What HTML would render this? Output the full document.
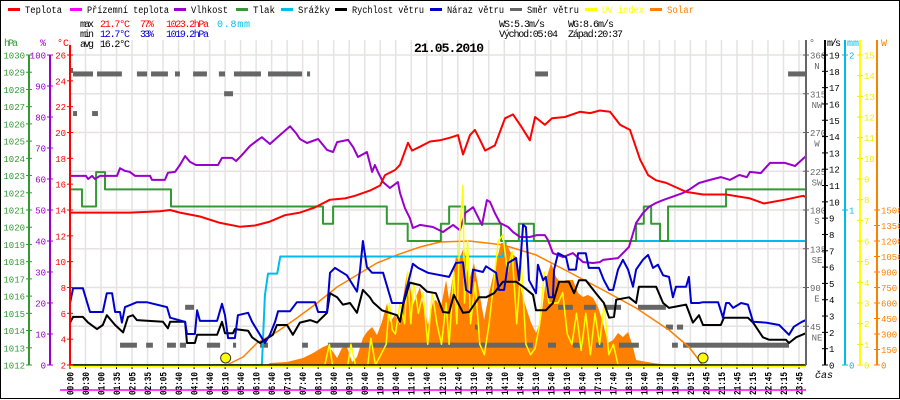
<!DOCTYPE html>
<html><head><meta charset="utf-8"><style>
html,body{margin:0;padding:0;background:#fff;}
svg{display:block;font-family:"Liberation Mono",monospace;}
</style></head><body>
<svg id="chart" width="900" height="400" viewBox="0 0 900 400" xmlns="http://www.w3.org/2000/svg">
<rect x="0.5" y="0.5" width="899" height="398" fill="#fff" stroke="#000"/>
<g id="grid"></g>
<g id="plot"></g>
<g id="axes"></g>
<g id="legend"></g>
<g font-size="10">
 <text x="80" y="27" textLength="14">max</text>
 <text x="100" y="27" fill="#f00" textLength="30">21.7°C</text>
 <text x="140" y="27" fill="#f00" textLength="14">77%</text>
 <text x="166" y="27" fill="#f00" textLength="43">1023.2hPa</text>
 <text x="217" y="27" fill="#00bbee" textLength="33">0.8mm</text>
 <text x="80" y="37" textLength="14">min</text>
 <text x="100" y="37" fill="#00c" textLength="30">12.7°C</text>
 <text x="140" y="37" fill="#00c" textLength="14">33%</text>
 <text x="166" y="37" fill="#00c" textLength="43">1019.2hPa</text>
 <text x="80" y="47" textLength="14">avg</text>
 <text x="100" y="47" textLength="30">16.2°C</text>
 <text x="499" y="27" textLength="46">WS:5.3m/s</text>
 <text x="568" y="27" textLength="46">WG:8.6m/s</text>
 <text x="499" y="37" textLength="59">Východ:05:04</text>
 <text x="568" y="37" textLength="55">Západ:20:37</text>
 <text x="414" y="52" font-size="13" font-weight="bold" textLength="70">21.05.2010</text>
</g>
</svg>
<script>
// ---- data ----
const xLabels=["00:00","00:30","01:00","01:35","02:05","02:35","03:05","03:40","04:10","04:40","05:10","05:40","06:10","06:40","07:10","07:40","08:10","08:40","09:10","09:40","10:10","10:40","11:10","11:40","12:10","12:40","13:10","13:40","14:10","14:40","15:10","15:40","16:10","16:40","17:10","17:40","18:10","18:40","19:10","19:40","20:15","20:45","21:15","21:45","22:15","22:45","23:15","23:45"];
const tempH=[0,0.98,1.95,2.93,3.26,3.58,4.23,4.89,5.54,6.03,6.51,7.0,7.49,7.98,8.47,8.96,9.28,9.77,10.1,10.26,10.59,10.75,11.01,11.14,11.4,11.73,12.05,12.38,12.64,12.8,13.03,13.19,13.36,13.52,13.84,14.17,14.43,14.66,14.98,15.15,15.47,15.7,16.12,16.61,16.94,17.26,17.59,17.92,18.24,18.57,18.83,19.09,19.42,20.07,20.62,21.37,22.15,22.6,23.29,23.88,23.97];
const tempV=[13.8,13.8,13.8,13.9,14.0,13.8,13.5,13.0,12.7,12.8,13.1,13.6,13.8,14.2,14.8,14.9,15.1,15.5,15.9,16.7,17.1,17.5,19.2,18.6,18.9,19.3,19.4,19.6,19.8,18.3,19.8,20.2,19.4,18.6,19.0,21.1,21.4,20.6,19.4,21.2,20.6,21.1,21.2,21.6,21.5,21.7,21.6,20.6,20.2,17.9,16.7,16.3,16.1,15.4,15.2,15.2,14.9,14.5,14.8,15.1,15.0];
const humH=[0,0.52,0.59,0.72,0.81,0.98,1.53,1.63,1.79,1.95,2.12,2.61,2.67,3.09,3.19,3.42,3.58,3.75,3.91,4.1,4.82,4.95,5.28,5.41,5.6,5.86,6.12,6.25,6.51,6.84,7.17,7.36,7.49,7.72,8.08,8.37,8.57,8.7,9.06,9.22,9.38,9.67,9.84,9.93,10.03,10.2,10.42,10.68,10.75,10.91,11.07,11.17,11.4,11.82,12.15,12.48,12.7,12.87,13.13,13.42,13.58,13.68,13.84,14.01,14.27,14.43,14.66,14.98,15.21,15.47,15.57,15.73,16.06,16.38,16.71,17.04,17.26,17.36,17.85,18.21,18.44,18.66,18.86,19.09,19.32,19.97,20.16,20.49,20.85,21.2,21.5,21.8,22.05,22.15,22.5,22.8,23.29,23.62,23.97];
const humV=[61,61,60,61,60,61,61,63.5,62.6,62.3,61,61,59.7,59.7,62,62.3,64.5,67.4,65.5,64.5,64.5,66.8,66.8,65.8,67.7,70.6,72.6,73.5,71.3,74.2,77,74.8,72.9,71.6,72.9,69.4,68.7,71.9,72.6,70.3,67.1,68.7,62.3,64.5,62.3,59,57.1,59,55.5,50.6,47.4,44.2,45.2,44.5,42.9,45.2,43.5,49,50.9,45.2,53.2,52.6,49,45.8,44.5,42.9,41.3,41.3,41.9,41.9,40.3,36.1,34.8,36.1,33.2,32.9,33.2,33.9,34.5,38.1,45.8,49,51,52.3,53.2,55.5,56.5,58.7,59.7,60.6,59.7,61.3,60.6,62.3,61.9,65.2,65.2,64.2,67.4];
const presH=[0,0.39,0.85,1.14,3.29,8.24,8.57,10.32,11.0,12.08,12.35,12.87,14.04,14.62,15.11,18.44,18.69,18.93,19.22,19.48,21.37];
const presV=[1022.2,1021.2,1023.2,1022.2,1021.2,1020.2,1021.2,1020.2,1019.2,1020.2,1021.2,1020.2,1019.2,1020.2,1019.2,1020.2,1021.2,1020.2,1019.2,1021.2,1022.2];
const rainH=[0,6.25,6.35,6.45,6.75,6.85,14.1,14.2,24];
const rainV=[0,0,0.45,0.59,0.59,0.70,0.70,0.80,0.80];
const windH=[0,0.1,0.42,0.59,0.88,1.07,1.2,1.47,1.73,1.89,2.05,2.18,3.03,3.19,3.26,3.75,3.81,4.07,4.14,4.79,4.95,5.05,5.31,5.37,5.8,5.93,6.19,6.61,6.74,7.07,7.26,7.49,7.82,8.05,8.37,8.47,8.7,8.89,9.12,9.35,9.54,9.77,9.87,10.16,10.33,10.65,10.75,10.85,11.07,11.4,11.63,11.92,12.15,12.35,12.5,12.8,13.0,13.32,13.55,13.81,14.1,14.53,14.76,15.08,15.18,15.5,15.73,15.93,16.25,16.42,16.58,16.8,17.13,17.39,17.56,17.72,17.79,18.21,18.44,18.53,19.09,19.32,19.51,20.07,20.29,20.49,20.62,21.2,21.3,22.08,22.25,22.57,22.77,23.32,23.42,23.65,23.97];
const windV=[2.6,2.95,2.95,2.6,2.2,2.45,3.05,2.45,2.0,2.95,3.05,2.75,2.65,2.25,2.65,2.65,1.35,1.35,1.85,1.85,2.65,1.95,1.95,2.2,2.1,1.7,1.35,1.85,2.45,2.45,1.85,2.6,2.75,2.6,3.2,4.4,4.15,3.7,3.8,3.2,4.6,4.15,3.85,3.35,3.25,3.05,2.65,3.7,5.05,4.9,4.5,4.4,3.25,3.2,4.3,3.2,3.25,4.15,4.15,4.4,5.1,5.1,4.8,4.3,3.35,3.35,3.8,5.1,5.1,4.4,5.2,5.2,4.4,3.8,2.9,2.95,4.0,4.15,3.8,4.8,4.8,3.8,3.5,3.7,2.6,3.05,2.45,2.45,2.9,2.9,2.6,1.7,1.55,1.55,1.35,1.7,1.95];
const gustH=[0,0.1,0.42,0.65,1.07,1.2,1.37,1.47,1.63,1.69,1.79,2.18,2.5,3.16,3.26,3.75,3.81,4.07,4.14,4.23,4.79,4.95,5.05,5.15,5.37,5.47,5.8,5.93,6.19,6.35,6.51,6.68,6.78,7.17,7.39,7.98,8.08,8.37,8.47,8.63,9.02,9.35,9.45,9.54,9.67,9.84,10.2,10.49,10.85,10.98,11.17,11.34,11.66,12.35,12.57,12.8,12.9,13.06,13.13,13.45,13.55,13.88,13.97,14.14,14.27,14.53,14.63,14.76,14.85,14.92,14.95,15.18,15.24,15.41,15.5,15.6,15.73,15.77,15.9,16.16,16.25,16.48,16.55,16.8,16.9,17.23,17.39,17.56,17.69,17.85,18.01,18.18,18.34,18.44,18.66,18.83,18.99,19.15,19.32,19.51,19.64,19.74,20.07,20.16,20.23,20.49,20.62,21.11,21.27,21.37,21.47,21.6,21.86,22.08,22.25,22.67,23.1,23.42,23.58,23.84,23.97];
const gustV=[3.8,4.7,4.7,3.25,3.25,4.4,4.4,3.25,3.25,2.6,3.55,3.85,3.85,3.55,2.9,2.65,1.9,1.9,3.35,2.7,2.7,3.75,3.05,1.65,1.65,3.05,3.2,2.65,1.85,1.35,1.85,2.65,3.3,3.3,3.85,3.85,3.25,3.25,5.65,5.95,5.5,4.5,5.85,7.6,6.0,5.65,5.65,3.8,3.8,4.8,6.2,5.95,5.65,5.4,6.25,6.3,4.6,4.4,5.85,5.7,6.05,5.65,4.6,4.6,6.25,6.55,5.2,8.6,8.45,6.45,5.2,4.4,6.15,5.2,5.4,4.15,4.15,5.85,6.85,6.6,5.85,5.85,6.85,6.85,5.95,5.95,5.2,4.6,4.6,5.85,6.45,5.85,4.8,5.85,6.45,6.75,5.95,6.15,5.5,5.4,4.15,4.8,4.8,5.4,3.8,3.8,3.85,3.85,2.9,3.8,3.8,3.5,3.8,3.7,2.65,2.6,2.45,1.85,2.35,2.65,2.75];
const dirStart=[0,0.1,0.88,2.18,2.64,3.42,4.01,4.85,5.34,6.45,7.72,15.15,23.39,5.02,0.1,0.72,3.75,15.9,16.74,17.39,18.5,19.41,19.77,13.19,1.63,2.48,3.16,3.58,4.46,5.31,6.19,7.56,8.4,15.57,16.38,17.13,17.88,19.61,19.97];
const dirEnd=[0.1,0.75,1.69,2.51,3.19,3.58,4.46,5.05,6.22,7.56,7.82,15.57,23.97,5.31,0.23,0.91,4.04,16.38,17.13,17.95,19.41,19.64,19.97,13.29,2.18,2.7,3.45,3.78,4.89,5.41,6.45,7.75,15.08,15.83,16.71,17.36,18.53,19.8,23.42];
const dirDeg=[342,338,338,338,338,338,338,338,338,338,338,338,338,315,292,292,67,67,67,67,67,44,44,44,23,23,23,23,23,23,23,23,23,23,23,23,23,23,23];
const uvH=[0,8.3,8.45,8.55,9.05,9.15,9.3,9.7,9.8,9.95,10.3,10.4,10.5,10.6,10.75,10.9,11.0,11.1,11.2,11.35,11.5,11.65,11.8,11.95,12.1,12.25,12.35,12.5,12.6,12.7,12.8,12.85,12.95,13.05,13.2,13.35,13.5,13.65,13.8,13.95,14.1,14.25,14.4,14.55,14.7,14.85,15.0,15.15,15.3,15.45,15.6,15.75,15.9,16.05,16.2,16.35,16.5,16.65,16.8,16.95,17.1,17.25,17.4,17.55,17.7,17.85,24];
const uvV=[0,0,1,0,0,1,0,0,1.3,0,1,3,1.7,1.5,3,2,4.5,2,4,2.5,3.5,1,3.5,2,1,3,1,4.5,2,6.5,8.7,3,6,2,4,1,0.5,2,4,6,6.3,4.5,5.5,2,5,1,0.5,0.8,2,4.5,3,3,3,3.5,1.5,1,2.5,0.7,2.5,0.5,2.5,1,3,0.5,1,0,0];
const solarH=[0,6.4,6.51,7.07,7.59,7.92,8.24,8.4,8.57,8.7,8.86,9.02,9.19,9.35,9.54,9.67,9.84,10.0,10.16,10.33,10.42,10.59,10.75,10.85,10.98,11.07,11.17,11.4,11.5,11.66,11.82,11.92,12.08,12.25,12.35,12.57,12.67,12.83,13.0,13.16,13.32,13.49,13.65,13.88,14.04,14.2,14.36,14.53,14.69,14.85,15.02,15.18,15.34,15.5,15.67,15.83,15.99,16.16,16.38,16.55,16.71,16.87,17.04,17.2,17.36,17.52,17.69,17.85,18.01,18.18,18.34,18.44,18.99,19.51,24];
const solarV=[0,0,19,29,68,116,174,194,126,68,165,174,29,77,261,319,368,290,416,600,416,484,387,649,900,774,581,755,581,387,610,629,561,823,629,1045,1016,1142,823,987,726,436,697,987,1181,1181,1084,1045,726,561,407,310,436,823,987,852,794,823,823,697,658,678,649,561,407,213,242,310,271,319,174,48,19,0,0];
const clearH=[5.11,5.64,6.09,6.74,7.39,8.05,8.7,9.35,10.0,10.65,11.4,12.05,13.0,14.1,15.18,16.25,17.36,18.44,19.51,20.16,20.49,20.59];
const clearV=[0,77,213,320,455,600,755,871,987,1065,1142,1190,1200,1162,1065,900,726,552,339,174,48,0];
const sunEvents=[5.07,20.62];
const tempTicks=[2,4,6,8,10,12,14,16,18,20,22,24,26];
const humTicks=[0,10,20,30,40,50,60,70,80,90,100];
const presTicks=[1012,1013,1014,1015,1016,1017,1018,1019,1020,1021,1022,1023,1024,1025,1026,1027,1028,1029,1030];
const dirTicks=[45,90,135,180,225,270,315,360];
const dirNames=["NE","E","SE","S","SW","W","NW","N"];
const windTicks=[0,1,2,3,4,5,6,7,8,9,10,11,12,13,14,15,16,17,18,19];
const rainTicks=[0,1,2];
const uvTicks=[0,1,2,3,4,5,6,7,8,9,10,11,12,13,14,15];
const solarTicks=[0,150,300,450,600,750,900,1050,1200,1350,1500];
const legendNames=["Teplota","Přízemní teplota","Vlhkost","Tlak","Srážky","Rychlost větru","Náraz větru","Směr větru","UV index","Solar"];
const legendColors=["#ff0000","#ff00ff","#9900cc","#339933","#00bbee","#000000","#0000cc","#666666","#ffff00","#ff8000"];

// ---- scales ----
const X0=70,X1=806,Y0=55,Y1=365;
const xT=h=>X0+h*30.7;
const yTemp=v=>Y1-(v-2)*(310/24);
const yHum=v=>Y1-v*3.1;
const yPres=v=>Y1-(v-1012)*(310/18);
const yWind=v=>Y1-v*(310/19);
const yRain=v=>Y1-v*155;
const yUV=v=>Y1-v*(310/15);
const ySolar=v=>Y1-v*(155/1500);
const yDir=v=>Y1-v*(310/360);

const NS="http://www.w3.org/2000/svg";
function mk(tag,parent,attrs){const e=document.createElementNS(NS,tag);for(const k in attrs)e.setAttribute(k,attrs[k]);parent.appendChild(e);return e;}
const grid=document.getElementById('grid'),plot=document.getElementById('plot'),axes=document.getElementById('axes'),legend=document.getElementById('legend');

// grid
const step=(799-70)/47;
xLabels.forEach((lab,i)=>{
  const x=X0+i*step;
  const l=mk('line',grid,{x1:x,x2:x,y1:Y0-15,y2:Y1,stroke:'#e6e2e2','stroke-width':1.5});
  
  
  const tk=mk('line',axes,{x1:x,x2:x,y1:Y1,y2:Y1+4,stroke:'#000'});
  
  
  const t=mk('text',axes,{x:0,y:0,transform:`translate(${x+3.5},395) rotate(-90)`,'font-size':10,'font-weight':'bold',textLength:23,lengthAdjust:'spacingAndGlyphs'});
  t.textContent=lab;
  
  
});
[0].concat(dirTicks).forEach(d=>{
  const y=yDir(d);
  const l=mk('line',grid,{x1:X0,x2:X1,y1:y,y2:y,stroke:'#e6e2e2','stroke-width':1.5});
  
  
});

// helpers
function pts(H,V,fy){return H.map((h,i)=>xT(h).toFixed(1)+','+fy(V[i]).toFixed(1)).join(' ');}
function stepPts(H,V,fy,end){let a=[];H.forEach((h,i)=>{const nx=i<H.length-1?H[i+1]:end;a.push(xT(h)+','+fy(V[i]));a.push(xT(nx)+','+fy(V[i]));});return a.join(' ');}

// solar fill
const sp=mk('polygon',plot,{points:pts(solarH,solarV,ySolar)+` ${xT(24)},${Y1} ${xT(0)},${Y1}`,fill:'#ff8000'});


// direction dashes
dirDeg.forEach((d,i)=>{
  const r=mk('rect',plot,{x:xT(dirStart[i]),y:yDir(d)-2.5,width:Math.max(2,xT(dirEnd[i])-xT(dirStart[i])),height:5,fill:'#666'});
  
  
});
function line(p,color,w,name){const e=mk('polyline',plot,{points:p,fill:'none',stroke:color,'stroke-width':w,'stroke-linejoin':'round'});
  
  return e;}
line(pts(clearH,clearV,ySolar),'#ff8000',1.5,'solar-clear-sky-line');
line(pts(rainH,rainV,yRain),'#00bbee',2,'rain-line');
line(stepPts(presH,presV,yPres,23.97),'#339933',2,'pressure-line');
line(pts(humH,humV,yHum),'#9900cc',2,'humidity-line');
line(pts(tempH,tempV,yTemp),'#ff0000',2,'temperature-line');
line(pts(uvH,uvV,yUV),'#ffff00',1.5,'uv-line');
line(pts(windH,windV,yWind),'#000000',2,'wind-speed-line');
line(pts(gustH,gustV,yWind),'#0000cc',2,'wind-gust-line');
const mg=mk('line',plot,{x1:60,x2:X1,y1:390,y2:390,stroke:'#ff00ff','stroke-width':1.5});


sunEvents.forEach(h=>{
  const c=mk('circle',plot,{cx:xT(h),cy:358,r:5,fill:'#ffff00',stroke:'#333','stroke-width':1});
  
  
});

// axes
function vaxis(x,top,color,name){const l=mk('line',axes,{x1:x,x2:x,y1:top,y2:Y1,stroke:color,'stroke-width':2});
  
  }
function tickLab(x,y,txt,color,anchor,name){
  const tk=mk('line',axes,{x1:x-3,x2:x+3,y1:y,y2:y,stroke:color});
  
  
  const t=mk('text',axes,{x:anchor==='end'?x-4:x+4,y:y+3.5,fill:color,'font-size':9,'text-anchor':anchor});
  t.textContent=txt;
  
  
  return t;}
const xa=mk('line',axes,{x1:X0,x2:X1,y1:Y1,y2:Y1,stroke:'#000','stroke-width':1.5});


const ya=mk('line',axes,{x1:X0,x2:X1,y1:Y1+1.5,y2:Y1+1.5,stroke:'#ffff00','stroke-width':1.5});


vaxis(29,Y0,'#339933','pressure-axis');
presTicks.forEach(v=>tickLab(29,yPres(v),String(v),'#339933','end','pressure'));
vaxis(50,Y0,'#9900cc','humidity-axis');
humTicks.forEach(v=>tickLab(50,yHum(v),String(v),'#9900cc','end','humidity'));
vaxis(70,Y0-10,'#ff0000','temperature-axis');
tempTicks.forEach(v=>tickLab(70,yTemp(v),String(v),'#ff0000','end','temperature'));
vaxis(806,40,'#666','direction-axis');
dirTicks.forEach((v,i)=>{
  tickLab(806,yDir(v),String(v),'#666','start','direction');
  const t=mk('text',axes,{x:817,y:yDir(v)+14,fill:'#666','font-size':9,'text-anchor':'middle'});
  t.textContent=dirNames[i];
  
  
});
vaxis(825,40,'#000','wind-axis');
windTicks.forEach(v=>tickLab(825,yWind(v),String(v),'#000','start','wind'));
vaxis(845,40,'#00bbee','rain-axis');
rainTicks.forEach(v=>tickLab(845,yRain(v),String(v),'#00bbee','start','rain'));
vaxis(860,40,'#ffff00','uv-axis');
uvTicks.forEach(v=>tickLab(860,yUV(v),String(v),'#eeee00','start','uv'));
vaxis(877,40,'#ff8000','solar-axis');
solarTicks.forEach(v=>tickLab(877,ySolar(v),String(v),'#ff8000','start','solar'));
[[4,'hPa','#339933',14],[40,'%','#9900cc',0],[57,'°C','#ff0000',0],[809,'°','#666',0],[827,'m/s','#000',14],[847,'mm','#00bbee',0],[881,'W','#ff8000',0]].forEach(a=>{
  const t=mk('text',axes,{x:a[0],y:46,fill:a[2],'font-size':10});
  if(a[3])t.setAttribute('textLength',a[3]);
  t.textContent=a[1];
  
  
});
const cas=mk('text',axes,{x:815,y:378,'font-size':10,'font-style':'italic'});
cas.textContent='čas';



// legend
const legX=[8,70,174,236,281,335,430,510,585,650];
legendNames.forEach((n,i)=>{
  const g=mk('g',legend,{});
  
  
  mk('rect',g,{x:legX[i],y:8,width:12,height:3,fill:legendColors[i]});
  const t=mk('text',g,{x:legX[i]+17,y:13,'font-size':10,fill:(i>=8?legendColors[i]:'#000'),textLength:n.length*5+2,lengthAdjust:'spacingAndGlyphs'});
  t.textContent=n;
});
</script>
</body></html>
